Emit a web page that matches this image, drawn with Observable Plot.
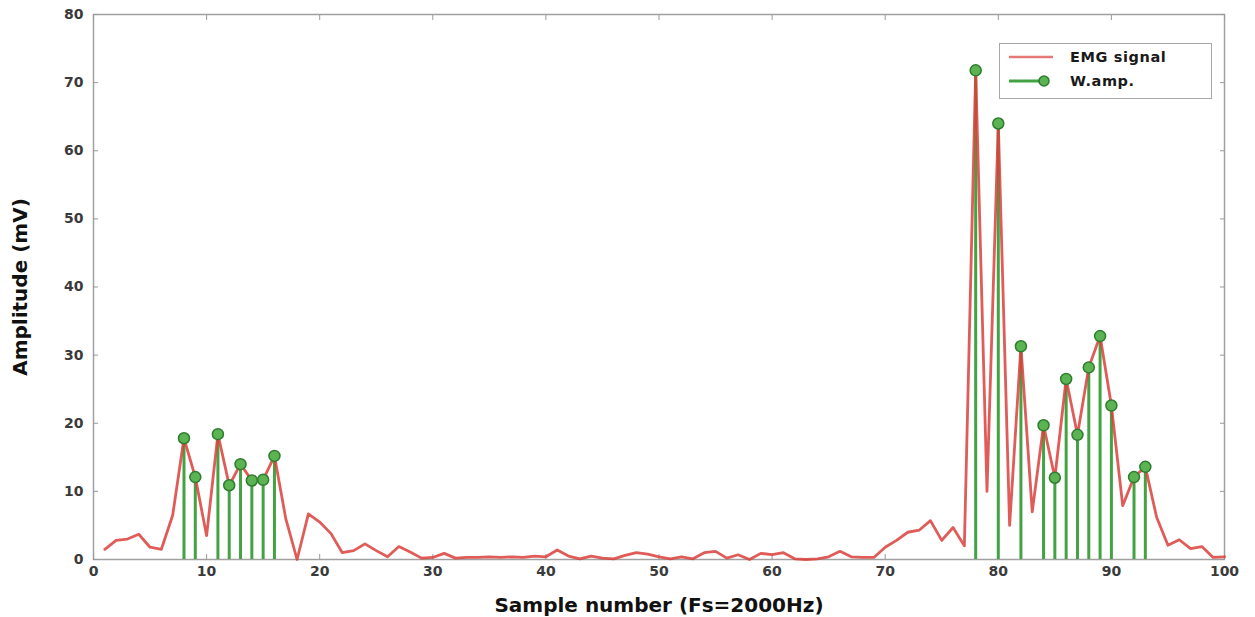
<!DOCTYPE html>
<html>
<head>
<meta charset="utf-8">
<script src="https://cdn.jsdelivr.net/npm/d3@7"></script>
<script src="https://cdn.jsdelivr.net/npm/@observablehq/plot@0.6"></script>
<style>
  body { margin: 0; background: #fff; }
  #chart { position: relative; width: 1255px; height: 617px; }
  #chart g[aria-label="x-axis label"], #chart g[aria-label="y-axis label"] {
    font-size: 20px; fill: #111;
  }
  .legend {
    position: absolute; left: 999px; top: 43px; width: 213px; height: 56px;
    box-sizing: border-box; border: 1.5px solid #a8a8a8; background: #fff;
    font: bold 14.5px "DejaVu Sans", sans-serif; color: #1a1a1a; letter-spacing: 0.6px;
  }
  .legend .row { position: absolute; left: 8px; display: flex; align-items: center; }
  .legend .row span { margin-left: 16px; }
</style>
</head>
<body>
<div id="chart"></div>
<script>
// Sample index of the EMG record (1..100)
const samples = d3.range(1, 101);

// EMG amplitude in mV per sample
const emgValues = [
  1.5, 2.8, 3.0, 3.7, 1.8, 1.5, 6.5, 17.8, 12.1, 3.5,
  18.4, 10.9, 14.0, 11.6, 11.7, 15.2, 6.0, 0.0, 6.7, 5.5,
  3.8, 1.0, 1.3, 2.3, 1.3, 0.4, 1.9, 1.1, 0.2, 0.3,
  0.9, 0.2, 0.3, 0.3, 0.4, 0.3, 0.4, 0.3, 0.5, 0.4,
  1.4, 0.5, 0.1, 0.5, 0.2, 0.1, 0.6, 1.0, 0.8, 0.4,
  0.1, 0.4, 0.1, 1.0, 1.2, 0.2, 0.7, 0.0, 0.9, 0.7,
  1.0, 0.1, 0.0, 0.1, 0.4, 1.2, 0.4, 0.3, 0.3, 1.8,
  2.8, 4.0, 4.3, 5.7, 2.8, 4.7, 2.0, 71.8, 10.0, 64.0,
  5.0, 31.3, 7.0, 19.7, 12.0, 26.5, 18.3, 28.2, 32.8, 22.6,
  7.9, 12.1, 13.6, 6.2, 2.1, 2.9, 1.6, 1.9, 0.3, 0.4
];

// Samples counted by the Willison amplitude
const wampSamples = [8, 9, 11, 12, 13, 14, 15, 16, 78, 80, 82, 84, 85, 86, 87, 88, 89, 90, 92, 93];

const xTicks = [0, 10, 20, 30, 40, 50, 60, 70, 80, 90, 100];
const yTicks = [0, 10, 20, 30, 40, 50, 60, 70, 80];

const seriesNames = ["EMG signal", "W.amp."];
const lineColor = "#d9403b";
const stemColor = "#43a343";

const emg = samples.map((s, i) => ({sample: s, amp: emgValues[i]}));
const wamp = wampSamples.map(s => ({sample: s, amp: emgValues[s - 1]}));

const chart = Plot.plot({
  width: 1255,
  height: 617,
  marginLeft: 93,
  marginRight: 31,
  marginTop: 14,
  marginBottom: 58,
  style: {fontFamily: "'DejaVu Sans', sans-serif", fontSize: "14px", fontWeight: "bold", background: "#fff"},
  x: {domain: [0, 100]},
  y: {domain: [0, 80]},
  marks: [
    Plot.frame({stroke: "#a0a0a0", strokeWidth: 1.5}),
    Plot.axisX({ticks: xTicks, tickSize: -5, tickPadding: 12, stroke: "#999", fill: "#3a3a3a",
      label: "Sample number (Fs=2000Hz)", labelAnchor: "center", labelOffset: 52, labelArrow: "none"}),
    Plot.axisX({anchor: "top", ticks: xTicks, tickSize: -5, stroke: "#999", tickFormat: () => "", label: null}),
    Plot.axisY({ticks: yTicks, tickSize: -5, tickPadding: 15, stroke: "#999", fill: "#3a3a3a",
      label: "Amplitude (mV)", labelAnchor: "center", labelOffset: 81, labelArrow: "none"}),
    Plot.axisY({anchor: "right", ticks: yTicks, tickSize: -5, stroke: "#999", tickFormat: () => "", label: null}),
    Plot.ruleX(wamp, {x: "sample", y1: 0, y2: "amp", stroke: stemColor, strokeWidth: 3}),
    Plot.line(emg, {x: "sample", y: "amp", stroke: lineColor, strokeWidth: 2.8, strokeOpacity: 0.85}),
    Plot.dot(wamp, {x: "sample", y: "amp", r: 5.5, fill: "#5cb352", stroke: "#2e7d2e", strokeWidth: 1.5})
  ]
});

const host = document.getElementById("chart");
host.appendChild(chart);

// Legend box
const legend = document.createElement("div");
legend.className = "legend";
legend.innerHTML = `
  <div class="row" style="top:5px">
    <svg width="46" height="16"><line x1="1" y1="8" x2="45" y2="8" stroke="${lineColor}" stroke-width="2.6" stroke-opacity="0.7"/></svg>
    <span>${seriesNames[0]}</span>
  </div>
  <div class="row" style="top:29px">
    <svg width="46" height="16"><line x1="1" y1="8" x2="40" y2="8" stroke="${stemColor}" stroke-width="2.8"/>
      <circle cx="36" cy="8" r="5" fill="#5cb352" stroke="#2e7d2e" stroke-width="1.5"/></svg>
    <span>${seriesNames[1]}</span>
  </div>`;
host.appendChild(legend);
</script>
</body>
</html>
